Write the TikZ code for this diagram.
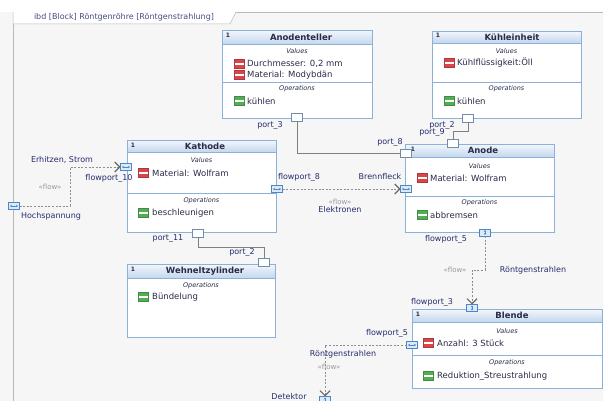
\documentclass[tikz,border=0pt]{standalone}
\usepackage{fontspec}
\setmainfont{DejaVu Sans}
\usepackage{tikz}
\usetikzlibrary{arrows.meta}
\usetikzlibrary{calc}

\definecolor{bgc}{HTML}{F6F6F6}
\definecolor{framec}{HTML}{B9B9B9}
\definecolor{blkc}{HTML}{8DB0D6}
\definecolor{hdtop}{HTML}{F2F6FB}
\definecolor{hdbot}{HTML}{C3D7EE}
\definecolor{navy}{HTML}{262D6E}
\definecolor{txtc}{HTML}{2A2A48}
\definecolor{flowc}{HTML}{8E8E8E}
\definecolor{tipc}{HTML}{6A6A6A}
\definecolor{valred}{HTML}{D9464A}
\definecolor{opgreen}{HTML}{52AE52}
\definecolor{fportc}{HTML}{4A86C8}
\definecolor{fportfill}{HTML}{DCEAF8}
\definecolor{connc}{HTML}{808080}

\begin{document}
\begin{tikzpicture}[x=1pt,y=-1pt,
	blk/.style={draw=blkc,fill=white,inner sep=0pt,outer sep=0pt,line width=0.7pt},
	hdr/.style={top color=hdtop,bottom color=hdbot},
	one/.style={font=\bfseries\fontsize{6}{7}\selectfont,text=txtc,inner sep=0pt},
	title/.style={font=\bfseries\fontsize{8.5}{10}\selectfont,text=txtc,inner sep=0pt},
	sect/.style={font=\itshape\fontsize{6.5}{8}\selectfont,text=txtc,inner sep=0pt},
	item/.style={font=\fontsize{8.5}{10}\selectfont,text=txtc,inner sep=0pt,anchor=west},
	lbl/.style={font=\fontsize{8}{9.6}\selectfont,text=navy,inner sep=0pt},
	flowlbl/.style={font=\fontsize{7}{8.4}\selectfont,text=flowc!90,inner sep=0pt},
	valicon/.style={fill=valred,draw=valred!80!black,line width=0.4pt,minimum width=10pt,minimum height=9pt,inner sep=0pt,
		path picture={\draw[white,line width=1.2pt] (path picture bounding box.west) -- (path picture bounding box.east);}},
	opicon/.style={valicon,fill=opgreen,draw=opgreen!80!black},
	port/.style={draw=blkc!80!black,fill=white,line width=0.6pt,minimum width=11pt,minimum height=8pt,inner sep=0pt,outer sep=0pt},
	fport/.style={draw=fportc,fill=fportfill,line width=0.6pt,minimum width=11pt,minimum height=7pt,inner sep=0pt,outer sep=0pt,
		path picture={\draw[fportc,line width=0.5pt,{Latex[length=1.6pt,width=2.4pt]}-{Latex[length=1.6pt,width=2.4pt]}]
			([xshift=1.5pt]path picture bounding box.west) -- ([xshift=-1.5pt]path picture bounding box.east);}},
	fportv/.style={fport,path picture={\draw[fportc,line width=0.5pt,{Latex[length=1.6pt,width=2.4pt]}-{Latex[length=1.6pt,width=2.4pt]}]
			([yshift=-1pt]path picture bounding box.north) -- ([yshift=1pt]path picture bounding box.south);}},
	conn/.style={draw=connc,line width=0.6pt},
	flow/.style={draw=flowc,line width=0.7pt,dash pattern=on 2pt off 1.6pt,-{Straight Barb[length=5pt,width=10pt,line width=1.1pt,color=tipc]}}
]
	\useasboundingbox (0,0) rectangle (603,401);
	\fill[bgc] (0,0) rectangle (603,401);
	\fill[white] (0,0) rectangle (603,12);
	\draw[framec,line width=0.8pt] (13,401) -- (13,12) -- (603,12);
	\draw[framec,line width=0.5pt,fill=white] (13,12) -- (13,24) -- (230,24) -- (236,12);
	\node[lbl,text=navy!85] (frametitle) at (124,17) {ibd [Block] Röntgenröhre [Röntgenstrahlung]};

	\node[blk,minimum width=150pt,minimum height=88pt] (anodenteller) at (297,74) {};
	\shade[hdr] ($(anodenteller.north west)+(0.4,0.4)$) rectangle ($(anodenteller.north east)+(-0.4,14)$);
	\draw[blkc,line width=0.7pt] (anodenteller.north west) rectangle (anodenteller.south east);
	\draw[blkc,line width=0.7pt] (222,44) -- (372,44);
	\draw[blkc,line width=0.7pt] (222,82) -- (372,82);
	\node[one] (oneAt) at (228,35) {1};
	\node[title] (tAt) at (301,37) {Anodenteller};
	\node[sect] (vAt) at (297,51) {Values};
	\node[valicon] (iAt1) at (239,64) {};
	\node[item] (xAt1) at (247,64) {Durchmesser: 0,2 mm};
	\node[valicon] (iAt2) at (239,75) {};
	\node[item] (xAt2) at (247,75) {Material: Modybdän};
	\node[sect] (oAt) at (297,89) {Operations};
	\node[opicon] (iAt3) at (239,101) {};
	\node[item] (xAt3) at (247,101) {kühlen};

	\node[blk,minimum width=149pt,minimum height=87pt] (kuehl) at (506.5,74.5) {};
	\shade[hdr] ($(kuehl.north west)+(0.4,0.4)$) rectangle ($(kuehl.north east)+(-0.4,12)$);
	\draw[blkc,line width=0.7pt] (kuehl.north west) rectangle (kuehl.south east);
	\draw[blkc,line width=0.7pt] (432,43) -- (581,43);
	\draw[blkc,line width=0.7pt] (432,82) -- (581,82);
	\node[one] (oneKu) at (438,35) {1};
	\node[title] (tKu) at (512,37) {Kühleinheit};
	\node[sect] (vKu) at (506.5,51) {Values};
	\node[valicon] (iKu1) at (449,63) {};
	\node[item] (xKu1) at (457,63) {Kühlflüssigkeit:Öll};
	\node[sect] (oKu) at (506.5,89) {Operations};
	\node[opicon] (iKu2) at (449,101) {};
	\node[item] (xKu2) at (457,101) {kühlen};

	\node[blk,minimum width=149pt,minimum height=92pt] (kathode) at (201.5,186) {};
	\shade[hdr] ($(kathode.north west)+(0.4,0.4)$) rectangle ($(kathode.north east)+(-0.4,12)$);
	\draw[blkc,line width=0.7pt] (kathode.north west) rectangle (kathode.south east);
	\draw[blkc,line width=0.7pt] (127,152) -- (276,152);
	\draw[blkc,line width=0.7pt] (127,193) -- (276,193);
	\node[one] (oneKa) at (133,145) {1};
	\node[title] (tKa) at (205,146) {Kathode};
	\node[sect] (vKa) at (201.5,160) {Values};
	\node[valicon] (iKa1) at (143,173) {};
	\node[item] (xKa1) at (152,173) {Material: Wolfram};
	\node[sect] (oKa) at (201.5,201) {Operations};
	\node[opicon] (iKa2) at (143,213) {};
	\node[item] (xKa2) at (152,213) {beschleunigen};

	\node[blk,minimum width=149pt,minimum height=88pt] (anode) at (479.5,188) {};
	\shade[hdr] ($(anode.north west)+(0.4,0.4)$) rectangle ($(anode.north east)+(-0.4,13)$);
	\draw[blkc,line width=0.7pt] (anode.north west) rectangle (anode.south east);
	\draw[blkc,line width=0.7pt] (405,157) -- (554,157);
	\draw[blkc,line width=0.7pt] (405,196) -- (554,196);
	\node[one] (oneAn) at (413,149) {1};
	\node[title] (tAn) at (483,150) {Anode};
	\node[sect] (vAn) at (479.5,166) {Values};
	\node[valicon] (iAn1) at (422,178) {};
	\node[item] (xAn1) at (430,178) {Material: Wolfram};
	\node[sect] (oAn) at (479.5,203) {Operations};
	\node[opicon] (iAn2) at (422,215) {};
	\node[item] (xAn2) at (430,215) {abbremsen};

	\node[blk,minimum width=148pt,minimum height=73pt] (wehnelt) at (201,300.5) {};
	\shade[hdr] ($(wehnelt.north west)+(0.4,0.4)$) rectangle ($(wehnelt.north east)+(-0.4,14)$);
	\draw[blkc,line width=0.7pt] (wehnelt.north west) rectangle (wehnelt.south east);
	\draw[blkc,line width=0.7pt] (127,278) -- (275,278);
	\node[one] (oneWe) at (133,269) {1};
	\node[title] (tWe) at (205,271) {Wehneltzylinder};
	\node[sect] (oWe) at (201,286) {Operations};
	\node[opicon] (iWe1) at (143,297) {};
	\node[item] (xWe1) at (152,297) {Bündelung};

	\node[blk,minimum width=190pt,minimum height=79pt] (blende) at (507,348.5) {};
	\shade[hdr] ($(blende.north west)+(0.4,0.4)$) rectangle ($(blende.north east)+(-0.4,13)$);
	\draw[blkc,line width=0.7pt] (blende.north west) rectangle (blende.south east);
	\draw[blkc,line width=0.7pt] (412,322) -- (602,322);
	\draw[blkc,line width=0.7pt] (412,355) -- (602,355);
	\node[one] (oneBl) at (418,314) {1};
	\node[title] (tBl) at (512,315.5) {Blende};
	\node[sect] (vBl) at (507,331) {Values};
	\node[valicon] (iBl1) at (428,343) {};
	\node[item] (xBl1) at (437,343) {Anzahl: 3 Stück};
	\node[sect] (oBl) at (507,363) {Operations};
	\node[opicon] (iBl2) at (428,376) {};
	\node[item] (xBl2) at (437,376) {Reduktion\_Streustrahlung};

	\node[port] (at3) at (297,117) {};
	\node[port] (ku2) at (468,118) {};
	\node[port] (an8) at (406,153) {};
	\node[port] (an9) at (453,143.5) {};
	\node[port] (ka11) at (198,233) {};
	\node[port] (we2) at (264,262) {};
	\node[fport] (ka10) at (126,167) {};
	\node[fport] (ka8) at (277,189) {};
	\node[fport] (anB) at (406,189) {};
	\node[fportv] (an5) at (485,232.5) {};
	\node[fportv] (bl3) at (472,308) {};
	\node[fport] (bl5) at (412,345) {};
	\node[fport] (hs) at (14,206) {};
	\node[fportv] (det) at (325,400) {};

	\draw[conn] (at3.south) |- (an8.west);
	\draw[conn] (ku2.south) -- ++(0,9) -| (an9.north);
	\draw[conn] (ka11.south) -- ++(0,10) -| (we2.north);

	\coordinate (hsk) at (70,206);
	\draw[flow] (hs.east) -- (hsk) |- (ka10.west);
	\draw[flow] (ka8.east) -- (anB.west);
	\draw[flow] (an5.south) -- ++(0,34) -| (bl3.north);
	\draw[flow] (bl5.west) -| (det.north);

	\node[lbl] (lat3) at (270,125) {port\_3};
	\node[lbl] (lku2) at (442,125) {port\_2};
	\node[lbl] (lan9) at (432,132) {port\_9};
	\node[lbl] (lan8) at (390,142) {port\_8};
	\node[lbl] (lhsf) at (62,160) {Erhitzen, Strom};
	\node[lbl] (lka10) at (109,178) {flowport\_10};
	\node[flowlbl] (fhs) at (50,187) {«flow»};
	\node[lbl] (lhs) at (51,216) {Hochspannung};
	\node[lbl] (lka8) at (299,177) {flowport\_8};
	\node[lbl] (lanB) at (380,177) {Brennfleck};
	\node[flowlbl] (fel) at (340,202) {«flow»};
	\node[lbl] (lel) at (340,209.5) {Elektronen};
	\node[lbl] (lka11) at (168,239) {port\_11};
	\node[lbl] (lwe2) at (242,252) {port\_2};
	\node[lbl] (lan5) at (446,239) {flowport\_5};
	\node[flowlbl] (fro1) at (455,270) {«flow»};
	\node[lbl] (lro1) at (533,270) {Röntgenstrahlen};
	\node[lbl] (lbl3) at (432,302) {flowport\_3};
	\node[lbl] (lbl5) at (387,333) {flowport\_5};
	\node[lbl] (lro2) at (343,354) {Röntgenstrahlen};
	\node[flowlbl] (fro2) at (329,367) {«flow»};
	\node[lbl] (ldet) at (289,397) {Detektor};
\end{tikzpicture}
\end{document}
